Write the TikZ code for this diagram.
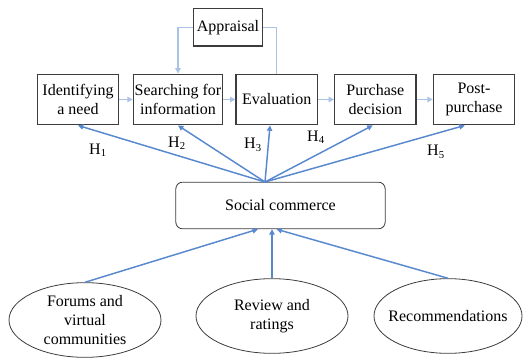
\documentclass[tikz,border=0pt]{standalone}
\usepackage{fontspec}
\setmainfont{Liberation Serif}
\usetikzlibrary{positioning, arrows.meta, shapes.geometric}
\definecolor{arrowBlue}{RGB}{88,136,206}
\definecolor{lightBlue}{RGB}{170,194,228}
\definecolor{boxGrey}{RGB}{60,60,60}

\begin{document}
\begin{tikzpicture}[x = 0.75pt, y = -0.75pt, node distance = 74pt, > = {Triangle[length = 4pt, width = 4pt]}, font = \fontsize{12}{14}\selectfont]
\tikzset{
  block/.style = {draw = boxGrey, line width = 0.9pt, fill = white, rectangle, minimum width = 61pt, minimum height = 38pt, inner sep = 1pt, align = center},
  appraisal/.style = {draw = boxGrey, line width = 0.9pt, fill = white, rectangle, minimum width = 52pt, minimum height = 28pt, anchor = north, inner sep = 1pt},
  social/.style = {draw = boxGrey, line width = 0.6pt, rounded corners = 5pt, minimum width = 157pt, minimum height = 35pt},
  sourceEllipse/.style = {draw = boxGrey, line width = 0.6pt, ellipse, minimum width = 114pt, minimum height = 56pt, inner xsep = -6pt, inner ysep = -2pt, align = center},
  flowArrow/.style = {->, draw = lightBlue, line width = 0.9pt},
  link/.style = {->, draw = arrowBlue, line width = 1.1pt},
  hypo/.style = {inner sep = 0pt},
}
\useasboundingbox (0,0) rectangle (528,360);
% decision process
\node [block] (identifyingNeed) at (78,99.5) {Identifying\\a need};
\node [block, right of = identifyingNeed, node distance = 75pt] (searchingInfo) {Searching for\\information};
\node [block, right of = searchingInfo] (evaluation) {Evaluation};
\node [block, right of = evaluation] (purchaseDecision) {Purchase\\decision};
\node [block, right of = purchaseDecision] (postPurchase) {Post-\\purchase};
\node [appraisal] (appraisalBox) at (228,8) {Appraisal};
\node [social] (socialCommerce) at (280.5,205.5) {Social commerce};
\coordinate (hub) at (265,182);
% sources
\node [sourceEllipse] (forums) at (85,320) {Forums and\\virtual\\communities};
\node [sourceEllipse] (reviews) at (272,316) {Review and\\ratings};
\node [sourceEllipse, minimum width = 111pt] (recommendations) at (448,316) {Recommendations};
% flow
\draw [flowArrow] (identifyingNeed) -- (searchingInfo);
\draw [flowArrow] (searchingInfo) -- (evaluation);
\draw [flowArrow] (evaluation) -- (purchaseDecision);
\draw [flowArrow] (purchaseDecision) -- (postPurchase);
\draw [flowArrow] (appraisalBox.west) -| (searchingInfo.north);
\draw [draw = lightBlue, line width = 0.9pt] (evaluation.north) |- (appraisalBox.east);
% hypotheses
\draw [link] (hub) -- (identifyingNeed.south);
\draw [link] (hub) -- (searchingInfo.south);
\draw [link] (hub) -- ([xshift = -5pt]evaluation.south);
\draw [link] (hub) -- ([xshift = -2pt]purchaseDecision.south);
\draw [link] (hub) -- ([xshift = -7pt]postPurchase.south);
\node [hypo] (h1) at (98,150) {H\textsubscript{1}};
\node [hypo] (h2) at (177,143) {H\textsubscript{2}};
\node [hypo] (h3) at (253,145) {H\textsubscript{3}};
\node [hypo] (h4) at (316,137) {H\textsubscript{4}};
\node [hypo] (h5) at (436,152) {H\textsubscript{5}};
\draw [link] (forums.north) -- ([xshift = -17pt]socialCommerce.south);
\draw [link] (reviews.north) -- (reviews.north |- socialCommerce.south);
\draw [link] (recommendations.north) -- ([xshift = -3pt]socialCommerce.south);
\end{tikzpicture}
\end{document}
